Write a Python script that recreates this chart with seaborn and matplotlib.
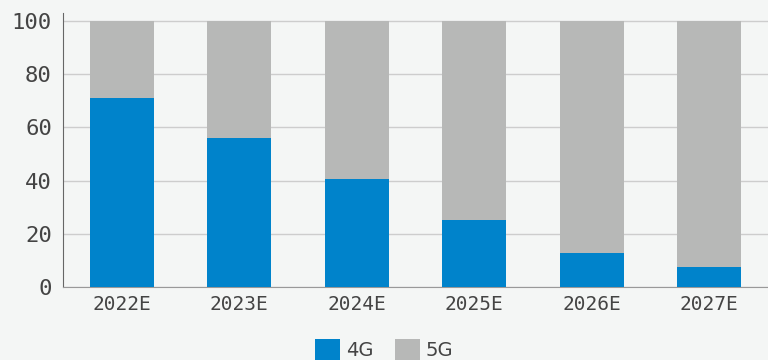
import pandas as pd
import matplotlib.pyplot as plt
import seaborn as sns
from matplotlib.patches import Patch

years = ['2022E', '2023E', '2024E', '2025E', '2026E', '2027E']
share_4g = [71, 56, 40.6, 25.2, 12.8, 7.5]
share_5g = [100 - v for v in share_4g]

blue = '#0083CB'
gray = '#B7B8B7'
bg = '#F4F6F5'
text_color = '#444444'

df = pd.DataFrame({'year': years, '4G': share_4g, '5G': share_5g})
df['total'] = df['4G'] + df['5G']

sns.set_style('white')
plt.rcParams['font.family'] = ['DejaVu Sans Mono', 'DejaVu Sans']

fig = plt.figure(figsize=(7.68, 3.6), dpi=100, facecolor=bg)
ax = fig.add_axes([0.082, 0.203, 0.918, 0.761])
ax.set_facecolor(bg)

sns.barplot(data=df, x='year', y='total', color=gray, width=0.545,
            saturation=1, linewidth=0, ax=ax, zorder=2)
sns.barplot(data=df, x='year', y='4G', color=blue, width=0.545,
            saturation=1, linewidth=0, ax=ax, zorder=3)

ax.set_ylim(0, 103)
ax.set_yticks([0, 20, 40, 60, 80, 100])
ax.yaxis.grid(True, color='#CDCDCD', linewidth=1, zorder=0)
ax.set_axisbelow(True)
ax.set_xlabel('')
ax.set_ylabel('')

for side in ['top', 'right']:
    ax.spines[side].set_visible(False)
ax.spines['left'].set_color('#666666')
ax.spines['bottom'].set_color('#999999')

ax.tick_params(axis='y', labelsize=16, colors=text_color, length=0, pad=8)
ax.tick_params(axis='x', labelsize=14, colors=text_color, length=0, pad=6)

handles = [Patch(facecolor=blue, label='4G', linewidth=0),
           Patch(facecolor=gray, label='5G', linewidth=0)]
fig.legend(handles=handles, loc='lower center', bbox_to_anchor=(0.5, -0.05),
           ncol=2, frameon=False, prop={'family': 'DejaVu Sans', 'size': 14},
           handlelength=1.3, handleheight=1.3, handletextpad=0.3,
           columnspacing=1.1, labelcolor=text_color)

fig.savefig('out.png', dpi=100, facecolor=bg)
